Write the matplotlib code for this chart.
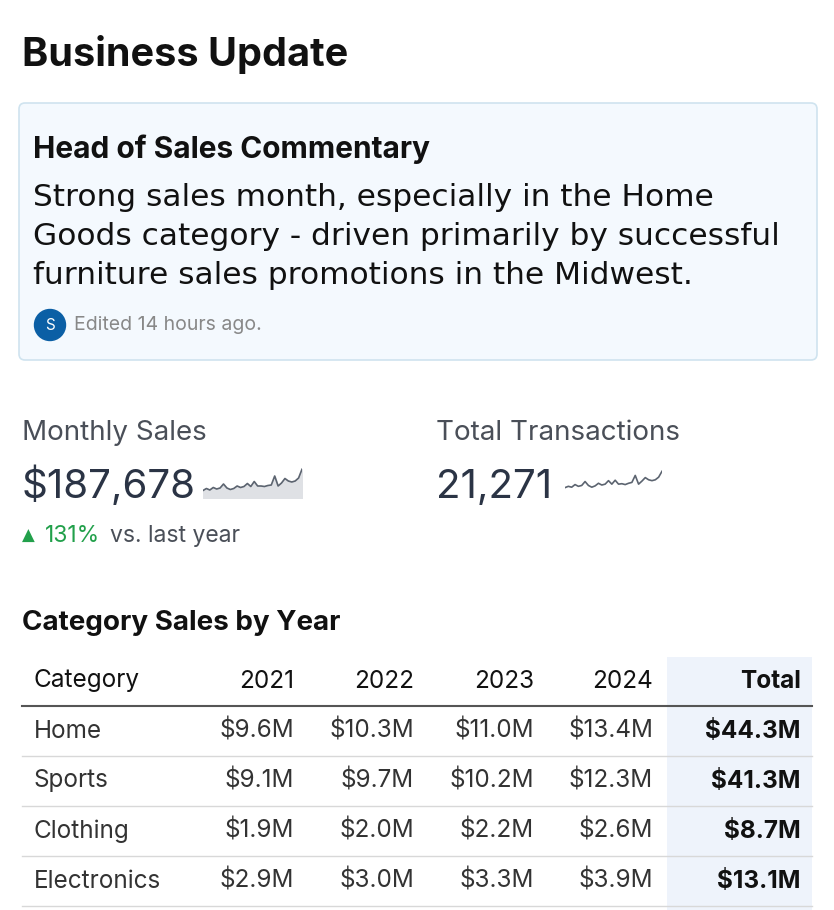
import matplotlib
matplotlib.use("Agg")
import matplotlib.pyplot as plt
from matplotlib.patches import FancyBboxPatch, Circle, Rectangle

title = "Business Update"
comment_title = "Head of Sales Commentary"
comment_lines = ["Strong sales month, especially in the Home",
                 "Goods category - driven primarily by successful",
                 "furniture sales promotions in the Midwest."]
edited = "Edited 14 hours ago."
kpi_labels = ["Monthly Sales", "Total Transactions"]
kpi_values = ["$187,678", "21,271"]
kpi_change = "131%"
sales_spark = [3, 3.8, 3.2, 4.2, 3.6, 4.0, 5.6, 4.0, 3.4, 3.8, 4.8, 4.2, 4.6, 5.8, 4.6, 6.6,
               4.8, 4.8, 4.6, 5.0, 5.2, 8.8, 4.8, 6.0, 7.8, 6.8, 6.4, 6.8, 8.0, 11.5]
trans_spark = [3, 3.6, 3.2, 4.4, 3.6, 4.0, 5.8, 4.0, 3.2, 3.8, 5.0, 4.2, 4.6, 6.2, 4.6, 6.4,
               4.6, 4.8, 4.4, 5.0, 5.4, 8.6, 4.6, 6.0, 7.6, 6.6, 6.2, 6.6, 7.8, 10.5]
table_title = "Category Sales by Year"
header = ["Category", "2021", "2022", "2023", "2024", "Total"]
categories = ["Home", "Sports", "Clothing", "Electronics"]
values = [["$9.6M", "$10.3M", "$11.0M", "$13.4M", "$44.3M"],
          ["$9.1M", "$9.7M", "$10.2M", "$12.3M", "$41.3M"],
          ["$1.9M", "$2.0M", "$2.2M", "$2.6M", "$8.7M"],
          ["$2.9M", "$3.0M", "$3.3M", "$3.9M", "$13.1M"]]

W, H = 834, 910
fig = plt.figure(figsize=(W/100, H/100), dpi=100)
ax = fig.add_axes([0, 0, 1, 1])
ax.set_xlim(0, W); ax.set_ylim(H, 0); ax.axis("off")
F = "Inter"
dark = "#111111"

ax.text(22, 66, title, fontsize=28.5, fontweight="bold", family=F, color=dark, va="baseline")
ax.add_patch(FancyBboxPatch((19, 103), 798, 257, boxstyle="round,pad=0,rounding_size=6",
                            fc="#f4f9fe", ec="#cfe3ef", lw=1.2))
ax.text(33, 158, comment_title, fontsize=21.5, fontweight="bold", family=F, color=dark, va="baseline")
for i, l in enumerate(comment_lines):
    ax.text(33, 206 + i*39, l, fontsize=22.5, family="DejaVu Sans", color=dark, va="baseline")
ax.add_patch(Circle((50, 325), 15.5, color="#0b5fa5"))
ax.text(50, 325, "S", fontsize=11, color="white", ha="center", va="center", family=F)
ax.text(74, 325, edited, fontsize=14, color="#888888", va="center", family=F)

kx = [22, 436]
for i in range(2):
    ax.text(kx[i], 440, kpi_labels[i], fontsize=20, color="#4a4f58", family=F, va="baseline")
    ax.text(kx[i], 498, kpi_values[i], fontsize=29, color="#2b3445", family=F, va="baseline")
ax.text(22, 536, "▲", fontsize=12, color="#22a04b", va="center", family="DejaVu Sans")
ax.text(45, 536, kpi_change, fontsize=16.5, color="#22a04b", va="center", family=F)
ax.text(110, 536, "vs. last year", fontsize=16.5, color="#4a4f58", va="center", family=F)

def spark(x0, y0, w, h, data, fill):
    a = fig.add_axes([x0/W, 1-(y0+h)/H, w/W, h/H])
    xs = range(len(data))
    a.plot(xs, data, color="#5c6470", lw=1.2)
    if fill:
        a.fill_between(xs, data, 0, color="#dfe1e5")
    a.set_xlim(0, len(data)-1)
    a.set_ylim(0 if fill else 1, 12)
    a.axis("off")

spark(203, 468, 99, 30, sales_spark, True)
spark(565, 468, 97, 24, trans_spark, False)

ax.text(22, 630, table_title, fontsize=20, fontweight="bold", family=F, color=dark, va="baseline")
ax.add_patch(Rectangle((667, 657), 145, 253, color="#eef3fb", lw=0))
xs = [34, 294, 414, 534, 653, 801]
ha = ["left"] + ["right"]*5
for j, h in enumerate(header):
    ax.text(xs[j], 681, h, fontsize=17.5, family=F, color=dark, ha=ha[j], va="center",
            fontweight="bold" if j == 5 else "normal")
ax.plot([22, 812], [706, 706], color="#555555", lw=1.5)
for i, c in enumerate(categories):
    y = 731 + 50*i
    ax.text(xs[0], y, c, fontsize=17.5, family=F, color="#333333", va="center")
    for j, v in enumerate(values[i]):
        ax.text(xs[j+1], y, v, fontsize=17.5, family=F, color="#333333" if j < 4 else dark,
                ha="right", va="center", fontweight="bold" if j == 4 else "normal")
    ax.plot([22, 812], [y+25, y+25], color="#d8d8d8", lw=1)

fig.savefig("out.png", dpi=100)
